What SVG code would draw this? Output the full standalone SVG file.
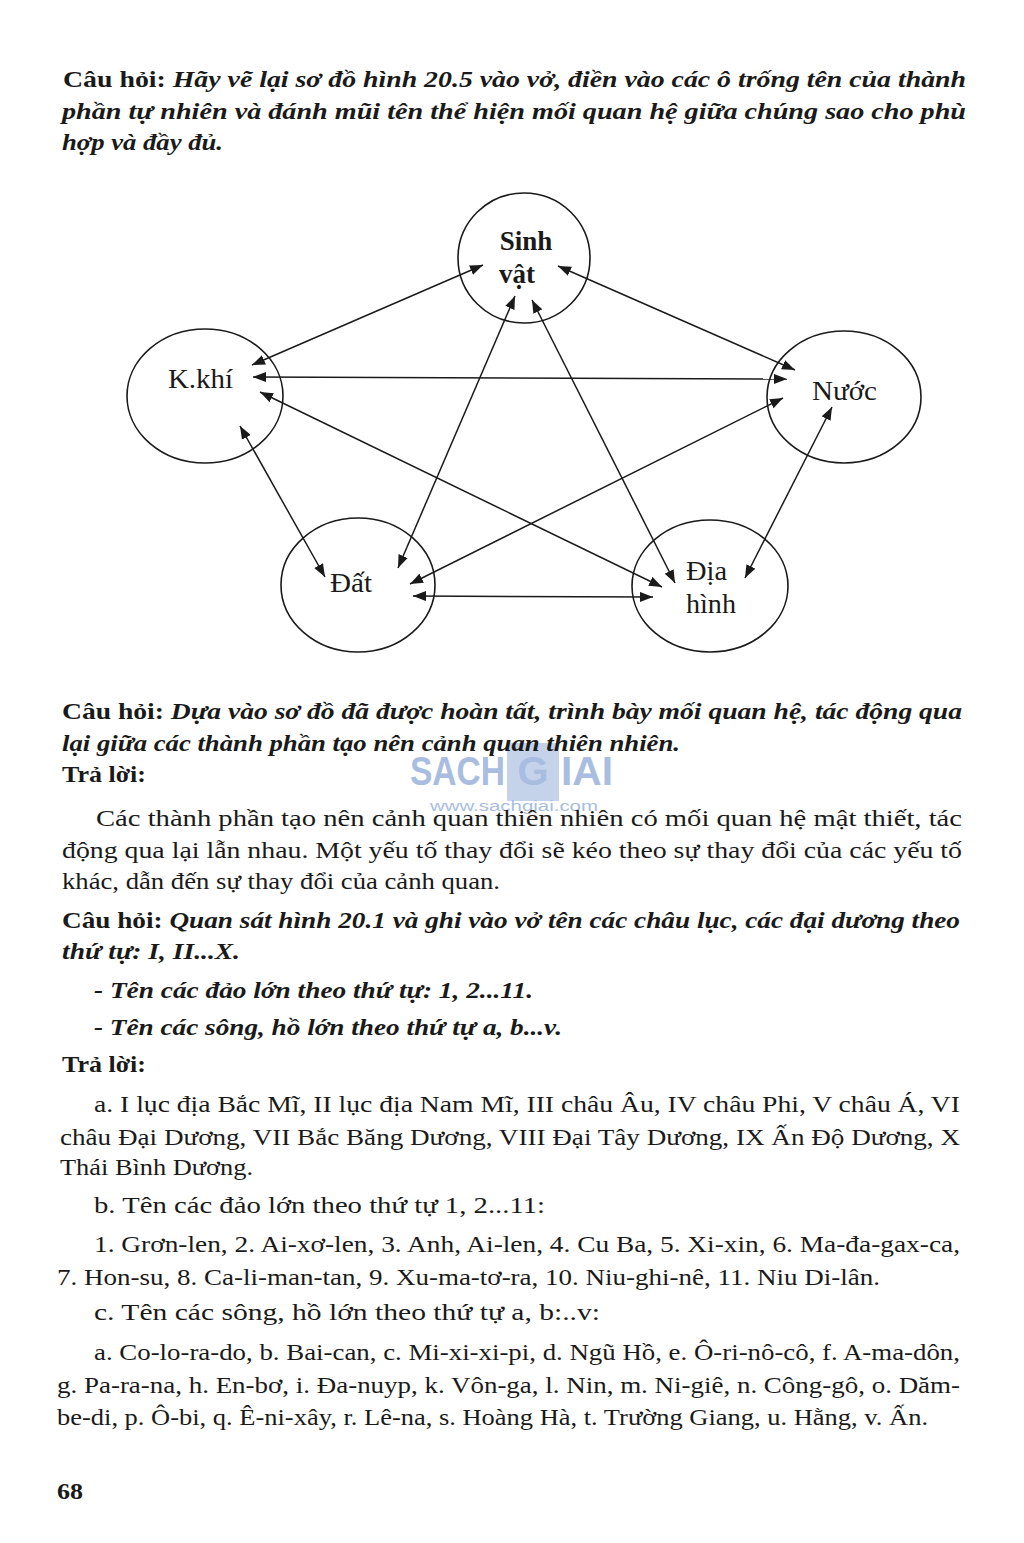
<svg xmlns="http://www.w3.org/2000/svg" width="1024" height="1543" viewBox="0 0 1024 1543">
<style>
.t{font-family:"Liberation Serif","Times New Roman",serif;font-size:24px;fill:#1a1a1a}
.b{font-weight:bold}
.bi{font-weight:bold;font-style:italic}
.lbl{font-family:"Liberation Serif","Times New Roman",serif;font-size:27px;fill:#1a1a1a}
.node ellipse{fill:none;stroke:#1a1a1a;stroke-width:1.6}
.edges line{stroke:#1a1a1a;stroke-width:1.5;marker-start:url(#ah);marker-end:url(#ah)}
.wm{font-family:"Liberation Sans",Arial,sans-serif;fill:#a9bde0}
</style>
<defs>
<marker id="ah" markerUnits="userSpaceOnUse" markerWidth="14" markerHeight="10" refX="13" refY="5" orient="auto-start-reverse">
<path d="M0,0 L13,5 L0,10 z" fill="#1a1a1a"/>
</marker>
</defs>
<rect width="1024" height="1543" fill="#ffffff"/>

<g id="q1">
<text class="t" x="63" y="87" textLength="903" lengthAdjust="spacingAndGlyphs"><tspan class="b">Câu hỏi: </tspan><tspan class="bi">Hãy vẽ lại sơ đồ hình 20.5 vào vở, điền vào các ô trống tên của thành</tspan></text>
<text class="t bi" x="62" y="119" textLength="904" lengthAdjust="spacingAndGlyphs">phần tự nhiên và đánh mũi tên thể hiện mối quan hệ giữa chúng sao cho phù</text>
<text class="t bi" x="62" y="150" textLength="161" lengthAdjust="spacingAndGlyphs">hợp và đầy đủ.</text>
</g>

<g id="nodes">
<g id="sinhvat" class="node">
<ellipse cx="524" cy="258" rx="66" ry="65"/>
<text class="lbl b" x="526" y="250" text-anchor="middle">Sinh</text>
<text class="lbl b" x="517" y="283" text-anchor="middle">vật</text>
</g>
<g id="kkhi" class="node">
<ellipse cx="205" cy="396" rx="78" ry="67"/>
<text class="lbl" x="168" y="388" textLength="65" lengthAdjust="spacingAndGlyphs">K.khí</text>
</g>
<g id="nuoc" class="node">
<ellipse cx="844" cy="397" rx="77" ry="66"/>
<text class="lbl" x="812" y="400" textLength="65" lengthAdjust="spacingAndGlyphs">Nước</text>
</g>
<g id="dat" class="node">
<ellipse cx="358" cy="585" rx="77" ry="67"/>
<text class="lbl" x="330" y="592" textLength="42" lengthAdjust="spacingAndGlyphs">Đất</text>
</g>
<g id="diahinh" class="node">
<ellipse cx="710" cy="586" rx="78" ry="66"/>
<text class="lbl" x="686" y="580" textLength="41" lengthAdjust="spacingAndGlyphs">Địa</text>
<text class="lbl" x="686" y="613" textLength="50" lengthAdjust="spacingAndGlyphs">hình</text>
</g>
</g>

<g id="connectors" class="edges">
<line x1="483" y1="265" x2="252" y2="365"/>
<line x1="558" y1="266" x2="795" y2="370"/>
<line x1="253" y1="377" x2="787" y2="379"/>
<line x1="260" y1="392" x2="662" y2="587"/>
<line x1="240" y1="426" x2="325" y2="577"/>
<line x1="515" y1="296" x2="398" y2="568"/>
<line x1="532" y1="300" x2="675" y2="583"/>
<line x1="783" y1="398" x2="410" y2="584"/>
<line x1="832" y1="407" x2="745" y2="578"/>
<line x1="413" y1="596" x2="653" y2="597"/>
</g>

<g id="watermark">
<text class="wm" x="410" y="785" font-size="40" font-weight="bold" textLength="95" lengthAdjust="spacingAndGlyphs">SACH</text>
<rect x="507" y="743" width="52" height="58" fill="#c5d3ea"/>
<text class="wm" x="533" y="785" font-size="40" font-weight="bold" text-anchor="middle" fill="#8fa6d2">G</text>
<text class="wm" x="561" y="785" font-size="40" font-weight="bold" textLength="52" lengthAdjust="spacingAndGlyphs">IAI</text>
<text class="wm" x="430" y="811" font-size="14" textLength="168" lengthAdjust="spacingAndGlyphs">www.sachgiai.com</text>
</g>

<g id="q2">
<text class="t" x="62" y="719" textLength="900" lengthAdjust="spacingAndGlyphs"><tspan class="b">Câu hỏi: </tspan><tspan class="bi">Dựa vào sơ đồ đã được hoàn tất, trình bày mối quan hệ, tác động qua</tspan></text>
<text class="t bi" x="62" y="751" textLength="618" lengthAdjust="spacingAndGlyphs">lại giữa các thành phần tạo nên cảnh quan thiên nhiên.</text>
<text class="t b" x="62" y="782" textLength="84" lengthAdjust="spacingAndGlyphs">Trả lời:</text>
<text class="t" x="96" y="826" textLength="866" lengthAdjust="spacingAndGlyphs">Các thành phần tạo nên cảnh quan thiên nhiên có mối quan hệ mật thiết, tác</text>
<text class="t" x="62" y="858" textLength="900" lengthAdjust="spacingAndGlyphs">động qua lại lẫn nhau. Một yếu tố thay đổi sẽ kéo theo sự thay đổi của các yếu tố</text>
<text class="t" x="62" y="889" textLength="438" lengthAdjust="spacingAndGlyphs">khác, dẫn đến sự thay đổi của cảnh quan.</text>
</g>

<g id="q3">
<text class="t" x="62" y="928" textLength="898" lengthAdjust="spacingAndGlyphs"><tspan class="b">Câu hỏi: </tspan><tspan class="bi">Quan sát hình 20.1 và ghi vào vở tên các châu lục, các đại dương theo</tspan></text>
<text class="t bi" x="62" y="959" textLength="178" lengthAdjust="spacingAndGlyphs">thứ tự: I, II...X.</text>
<text class="t bi" x="94" y="998" textLength="439" lengthAdjust="spacingAndGlyphs">- Tên các đảo lớn theo thứ tự: 1, 2...11.</text>
<text class="t bi" x="94" y="1035" textLength="468" lengthAdjust="spacingAndGlyphs">- Tên các sông, hồ lớn theo thứ tự a, b...v.</text>
<text class="t b" x="62" y="1072" textLength="84" lengthAdjust="spacingAndGlyphs">Trả lời:</text>
<text class="t" x="94" y="1112" textLength="866" lengthAdjust="spacingAndGlyphs">a. I lục địa Bắc Mĩ, II lục địa Nam Mĩ, III châu Âu, IV châu Phi, V châu Á, VI</text>
<text class="t" x="60" y="1145" textLength="900" lengthAdjust="spacingAndGlyphs">châu Đại Dương, VII Bắc Băng Dương, VIII Đại Tây Dương, IX Ấn Độ Dương, X</text>
<text class="t" x="60" y="1175" textLength="193" lengthAdjust="spacingAndGlyphs">Thái Bình Dương.</text>
<text class="t" x="94" y="1213" textLength="451" lengthAdjust="spacingAndGlyphs">b. Tên các đảo lớn theo thứ tự 1, 2...11:</text>
<text class="t" x="94" y="1252" textLength="866" lengthAdjust="spacingAndGlyphs">1. Grơn-len, 2. Ai-xơ-len, 3. Anh, Ai-len, 4. Cu Ba, 5. Xi-xin, 6. Ma-đa-gax-ca,</text>
<text class="t" x="57" y="1285" textLength="823" lengthAdjust="spacingAndGlyphs">7. Hon-su, 8. Ca-li-man-tan, 9. Xu-ma-tơ-ra, 10. Niu-ghi-nê, 11. Niu Di-lân.</text>
<text class="t" x="94" y="1320" textLength="506" lengthAdjust="spacingAndGlyphs">c. Tên các sông, hồ lớn theo thứ tự a, b:..v:</text>
<text class="t" x="94" y="1360" textLength="866" lengthAdjust="spacingAndGlyphs">a. Co-lo-ra-do, b. Bai-can, c. Mi-xi-xi-pi, d. Ngũ Hồ, e. Ô-ri-nô-cô, f. A-ma-dôn,</text>
<text class="t" x="57" y="1393" textLength="903" lengthAdjust="spacingAndGlyphs">g. Pa-ra-na, h. En-bơ, i. Đa-nuyp, k. Vôn-ga, l. Nin, m. Ni-giê, n. Công-gô, o. Dăm-</text>
<text class="t" x="57" y="1425" textLength="871" lengthAdjust="spacingAndGlyphs">be-di, p. Ô-bi, q. Ê-ni-xây, r. Lê-na, s. Hoàng Hà, t. Trường Giang, u. Hằng, v. Ấn.</text>
</g>

<text class="t b" x="57" y="1499" textLength="26" lengthAdjust="spacingAndGlyphs">68</text>
</svg>
